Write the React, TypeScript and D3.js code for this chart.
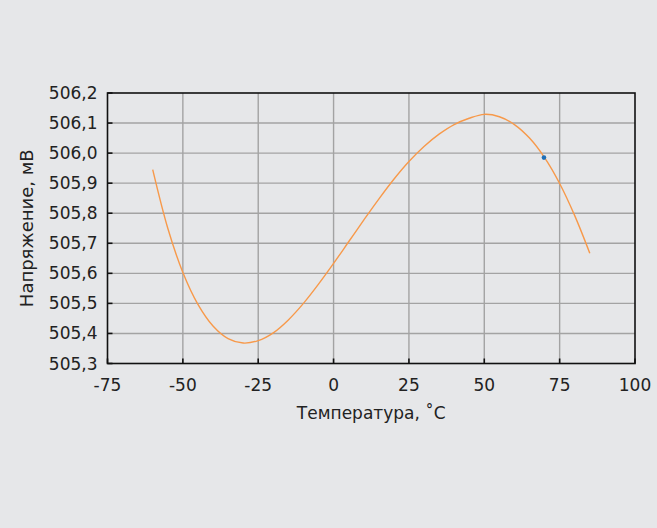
import React from 'react';
import * as d3 from 'd3';

// температура, °C
const temps = [-60, -55, -50, -45, -40, -35, -30, -25, -20, -15, -10, -5, 0, 5, 10, 15, 20, 25, 30, 35, 40, 45, 50, 55, 60, 65, 70, 75, 80, 85];
// напряжение, мВ
const volts = [505.945, 505.75, 505.603, 505.497, 505.425, 505.383, 505.368, 505.376, 505.402, 505.445, 505.5, 505.564, 505.633, 505.705, 505.777, 505.847, 505.913, 505.972, 506.022, 506.063, 506.095, 506.116, 506.129, 506.121, 506.095, 506.05, 505.985, 505.899, 505.792, 505.667];
// отдельная точка
const pointT = [69.8];
const pointV = [505.985];

const xTicks = [-75, -50, -25, 0, 25, 50, 75, 100];
const yTicks = [505.3, 505.4, 505.5, 505.6, 505.7, 505.8, 505.9, 506.0, 506.1, 506.2];

const W = 657;
const H = 528;
const margin = { left: 107.5, right: W - 635, top: 93, bottom: H - 363.5 };
const font = 'DejaVu Sans, sans-serif';

export default function App() {
  const x = d3.scaleLinear().domain([-75, 100]).range([margin.left, W - margin.right]);
  const y = d3.scaleLinear().domain([505.3, 506.2]).range([H - margin.bottom, margin.top]);
  const fmt = (v: number) => v.toFixed(1).replace('.', ',');

  const data = temps.map((t, i) => ({ t, v: volts[i] }));
  const line = d3.line<{ t: number; v: number }>()
    .x(d => x(d.t))
    .y(d => y(d.v))
    .curve(d3.curveCatmullRom);

  const x0 = x(-75), x1 = x(100), y0 = y(505.3), y1 = y(506.2);

  return (
    <svg width={W} height={H} style={{ position: 'absolute', left: 0, top: 0 }}>
      <rect width={W} height={H} fill="#e6e7e9" />
      <g>
        {xTicks.slice(1, -1).map(t => (
          <line key={'gx' + t} x1={x(t)} x2={x(t)} y1={y0} y2={y1} stroke="#a3a3a3" strokeWidth={1.4} />
        ))}
        {yTicks.slice(1, -1).map(t => (
          <line key={'gy' + t} x1={x0} x2={x1} y1={y(t)} y2={y(t)} stroke="#a3a3a3" strokeWidth={1.4} />
        ))}
      </g>
      <rect x={x0} y={y1} width={x1 - x0} height={y0 - y1} fill="none" stroke="#111" strokeWidth={1.6} />
      {xTicks.map(t => (
        <g key={'tx' + t}>
          <line x1={x(t)} x2={x(t)} y1={y0} y2={y0 - 5} stroke="#111" strokeWidth={1.6} />
          <text x={x(t)} y={y0 + 27} textAnchor="middle" fontFamily={font} fontSize={17} fill="#222">{t}</text>
        </g>
      ))}
      {yTicks.map(t => (
        <g key={'ty' + t}>
          <line x1={x0} x2={x0 + 5} y1={y(t)} y2={y(t)} stroke="#111" strokeWidth={1.6} />
          <text x={x0 - 10} y={y(t) + 6} textAnchor="end" fontFamily={font} fontSize={17} fill="#222">{fmt(t)}</text>
        </g>
      ))}
      <path d={line(data) || ''} fill="none" stroke="#f7994a" strokeWidth={1.4} />
      {pointT.map((t, i) => (
        <circle key={'p' + i} cx={x(t)} cy={y(pointV[i])} r={2.3} fill="#1f6fb8" />
      ))}
      <text x={(x0 + x1) / 2} y={419} textAnchor="middle" fontFamily={font} fontSize={17} fill="#222">Температура, ˚C</text>
      <text transform={`translate(33,${(y0 + y1) / 2}) rotate(-90)`} textAnchor="middle" fontFamily={font} fontSize={18} fill="#222">Напряжение, мВ</text>
    </svg>
  );
}
